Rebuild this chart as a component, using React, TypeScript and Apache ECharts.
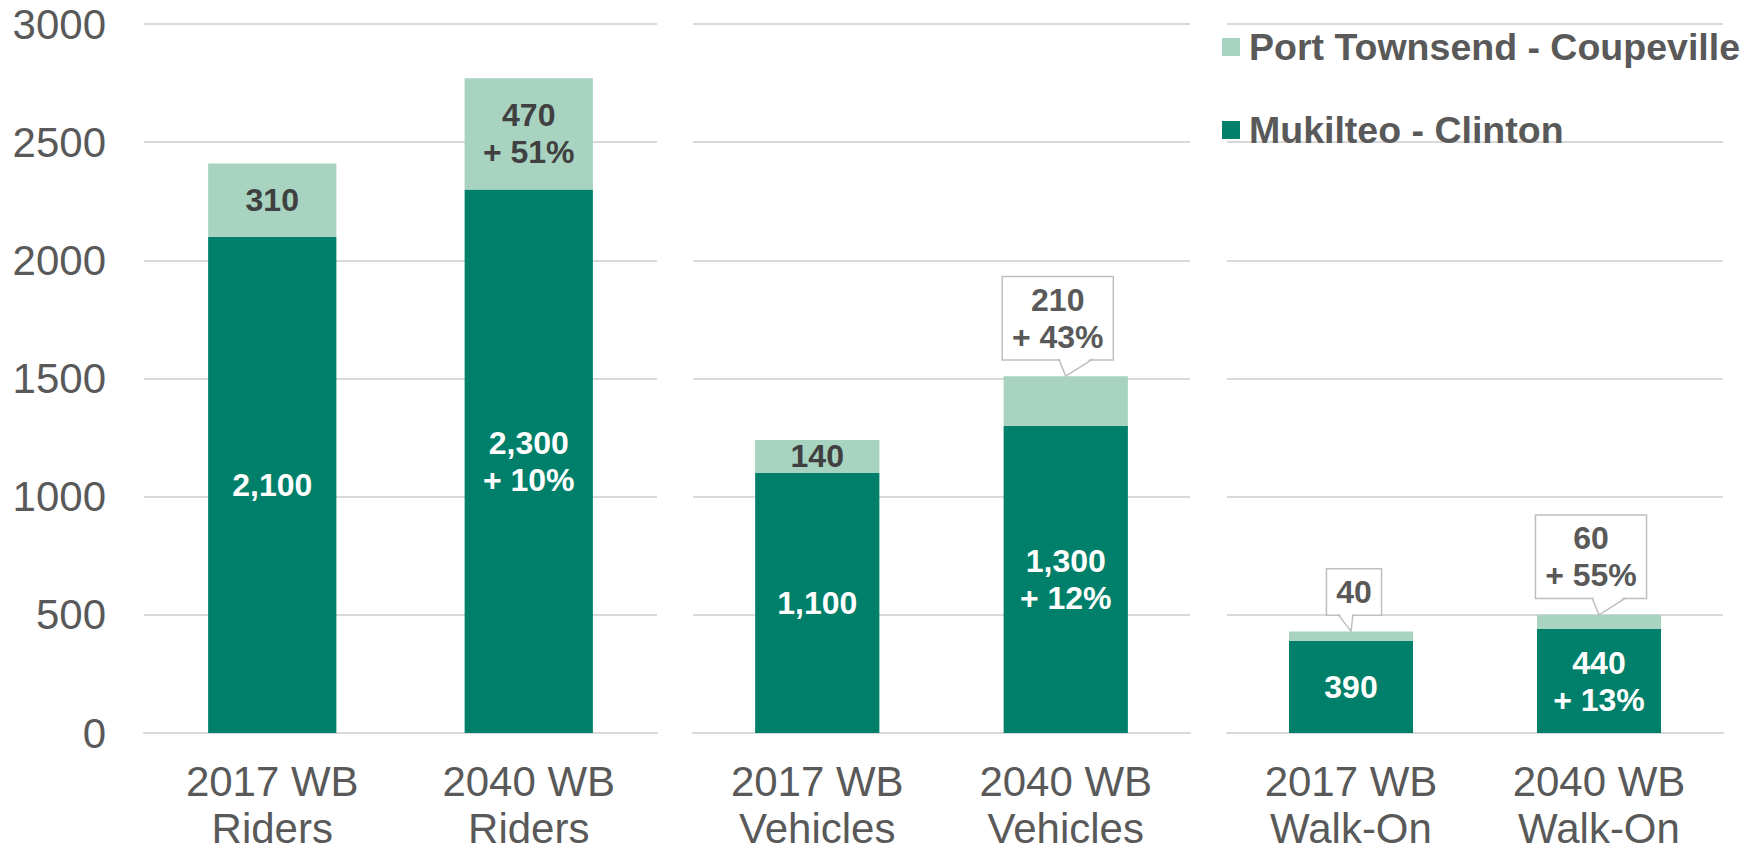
import React, { useEffect, useRef } from "react";
import * as echarts from "echarts";

// ---- data ----
const categories: string[][] = [
  ["2017 WB\nRiders", "2040 WB\nRiders"],
  ["2017 WB\nVehicles", "2040 WB\nVehicles"],
  ["2017 WB\nWalk-On", "2040 WB\nWalk-On"],
];
const mukilteoClinton: number[][] = [
  [2100, 2300],
  [1100, 1300],
  [390, 440],
];
const portTownsendCoupeville: number[][] = [
  [310, 470],
  [140, 210],
  [40, 60],
];
const mukilteoChange: (number | null)[][] = [
  [null, 10],
  [null, 12],
  [null, 13],
];
const portTownsendChange: (number | null)[][] = [
  [null, 51],
  [null, 43],
  [null, 55],
];
// which Port Townsend labels are drawn as callouts above the bar
const calloutLabels: boolean[][] = [
  [false, false],
  [false, true],
  [true, true],
];
const yMin = 0;
const yMax = 3000;
const yInterval = 500;

const SERIES_MC = "Mukilteo - Clinton";
const SERIES_PT = "Port Townsend - Coupeville";

// ---- styles ----
const DARK = "#00806A";
const LIGHT = "#A7D3C0";
const FONT = "'Liberation Sans', Arial, Helvetica, sans-serif";
const GRID_COLOR = "#D9D9D9";
const AXIS_TEXT = "#595959";

const gridBoxes = [
  { left: 144, right: 1760 - 657 },
  { left: 693, right: 1760 - 1190 },
  { left: 1227, right: 1760 - 1723 },
];

function fmt(v: number, pct: number | null) {
  return v.toLocaleString("en-US") + (pct != null ? `\n+ ${pct}%` : "");
}

function buildOption() {
  const grid = gridBoxes.map((g) => ({
    left: g.left,
    right: g.right,
    top: 24,
    bottom: 852 - 733,
    containLabel: false,
    outerBoundsMode: "none",
  }));
  const xAxis = categories.map((cats, p) => ({
    type: "category",
    gridIndex: p,
    data: cats,
    axisTick: { show: false },
    axisLine: { show: true, lineStyle: { color: GRID_COLOR, width: 2 } },
    axisLabel: {
      interval: 0,
      fontSize: 42,
      fontFamily: FONT,
      color: AXIS_TEXT,
      lineHeight: 47,
      margin: 25,
    },
  }));
  const yAxis = categories.map((_, p) => ({
    type: "value",
    gridIndex: p,
    min: yMin,
    max: yMax,
    interval: yInterval,
    axisLine: { show: false },
    axisTick: { show: false },
    axisLabel: {
      show: p === 0,
      fontSize: 42,
      fontFamily: FONT,
      color: AXIS_TEXT,
      margin: 38,
      formatter: (v: number) => String(v),
    },
    splitLine: { show: true, lineStyle: { color: GRID_COLOR, width: 2 } },
  }));

  const labelBase = {
    show: true,
    position: "inside",
    fontSize: 32,
    fontWeight: "bold",
    fontFamily: FONT,
    lineHeight: 37,
  };

  const series: any[] = [];
  categories.forEach((_, p) => {
    series.push({
      name: SERIES_MC,
      type: "bar",
      stack: `s${p}`,
      xAxisIndex: p,
      yAxisIndex: p,
      barWidth: "50%",
      silent: true,
      itemStyle: { color: DARK },
      label: {
        ...labelBase,
        color: "#FFFFFF",
        formatter: (prm: any) => fmt(mukilteoClinton[p][prm.dataIndex], mukilteoChange[p][prm.dataIndex]),
      },
      data: mukilteoClinton[p],
    });
    series.push({
      name: SERIES_PT,
      type: "bar",
      stack: `s${p}`,
      xAxisIndex: p,
      yAxisIndex: p,
      barWidth: "50%",
      silent: true,
      itemStyle: { color: LIGHT },
      label: {
        ...labelBase,
        color: "#404040",
        formatter: (prm: any) =>
          fmt(portTownsendCoupeville[p][prm.dataIndex], portTownsendChange[p][prm.dataIndex]),
      },
      data: portTownsendCoupeville[p].map((v, i) => ({ value: v, label: { show: !calloutLabels[p][i] } })),
    });

    const callouts: { value: number[]; text: string }[] = [];
    portTownsendCoupeville[p].forEach((v, i) => {
      if (calloutLabels[p][i]) {
        callouts.push({
          value: [i, mukilteoClinton[p][i] + v],
          text: fmt(v, portTownsendChange[p][i]),
        });
      }
    });
    if (callouts.length) {
      series.push({
        type: "custom",
        xAxisIndex: p,
        yAxisIndex: p,
        silent: true,
        z: 5,
        encode: { x: 0, y: 1 },
        data: callouts.map((c) => c.value),
        renderItem: (params: any, api: any) => {
          const item = callouts[params.dataIndex];
          const pt = api.coord([api.value(0), api.value(1)]);
          const tipX = pt[0];
          const tipY = pt[1];
          const multi = item.text.indexOf("\n") >= 0;
          const tailH = 17;
          const boxBottom = tipY - tailH;
          const boxCX = multi ? tipX - 8 : tipX + 3;
          const b1 = multi ? boxCX + 1 : boxCX - 16;
          const b2 = multi ? boxCX + 35 : boxCX - 1;
          return {
            type: "group",
            children: [
              {
                type: "text",
                style: {
                  text: item.text,
                  x: boxCX,
                  y: boxBottom,
                  align: "center",
                  verticalAlign: "bottom",
                  fontSize: 32,
                  fontWeight: "bold",
                  fontFamily: FONT,
                  lineHeight: 37,
                  fill: "#595959",
                  backgroundColor: "#FFFFFF",
                  borderColor: "#BFBFBF",
                  borderWidth: 1.5,
                  padding: [4, 9, 4, 9],
                },
              },
              {
                type: "polygon",
                shape: { points: [[b1 + 0.8, boxBottom - 1.5], [b2 - 0.8, boxBottom - 1.5], [tipX, tipY - 1]] },
                style: { fill: "#FFFFFF", stroke: null },
              },
              {
                type: "polyline",
                shape: { points: [[b1, boxBottom], [tipX, tipY], [b2, boxBottom]] },
                style: { stroke: "#BFBFBF", lineWidth: 1.5, fill: null },
              },
            ],
          };
        },
      });
    }
  });

  return {
    animation: false,
    backgroundColor: "#FFFFFF",
    legend: {
      data: [SERIES_PT, SERIES_MC],
      orient: "vertical",
      left: 1222,
      top: 27,
      padding: 0,
      icon: "rect",
      itemWidth: 18,
      itemHeight: 18,
      itemGap: 43,
      selectedMode: false,
      textStyle: {
        fontSize: 37.5,
        fontWeight: "bold",
        fontFamily: FONT,
        color: AXIS_TEXT,
        lineHeight: 40,
        padding: [0, 0, 0, 4],
      },
    },
    grid,
    xAxis,
    yAxis,
    series,
  };
}

export default function App() {
  const ref = useRef<HTMLDivElement>(null);
  useEffect(() => {
    if (!ref.current) return;
    const chart = echarts.init(ref.current, undefined, { renderer: "svg" });
    chart.setOption(buildOption() as any);
    return () => chart.dispose();
  }, []);
  return (
    <div
      ref={ref}
      style={{ position: "fixed", left: 0, top: 0, width: 1760, height: 852, background: "#fff" }}
    />
  );
}
